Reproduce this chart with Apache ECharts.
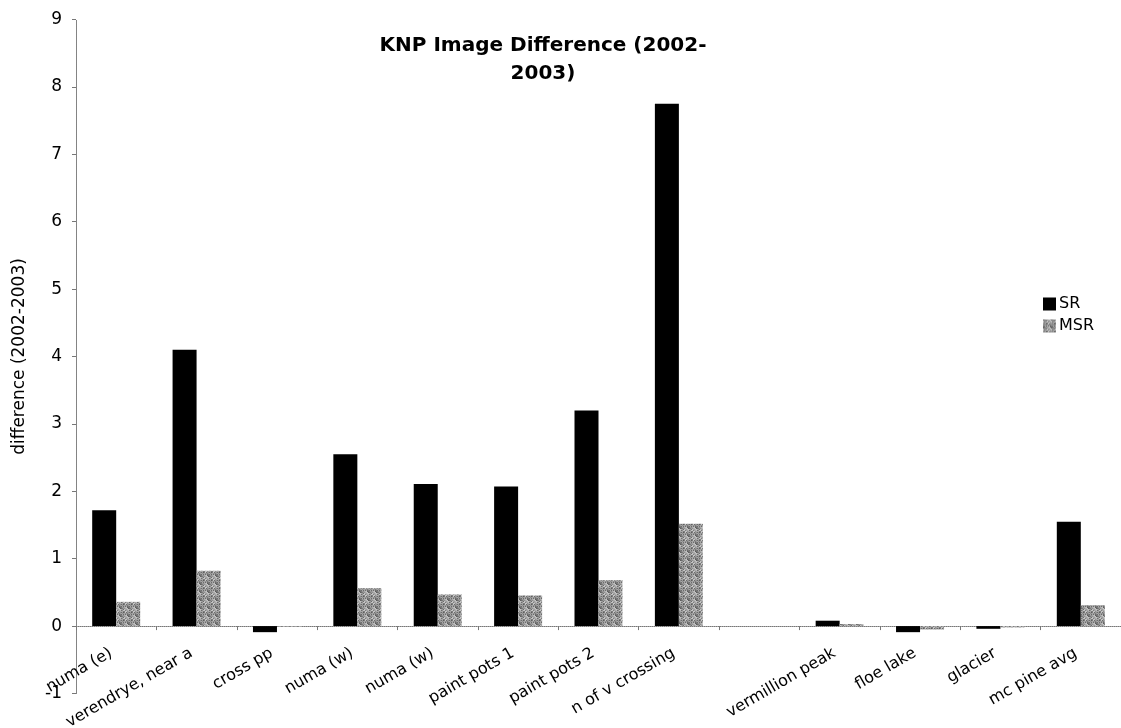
<!DOCTYPE html>
<html>
<head>
<meta charset="utf-8">
<title>KNP Image Difference (2002-2003)</title>
<script src="https://cdn.jsdelivr.net/npm/echarts@6/dist/echarts.min.js"></script>
<style>
  html, body { margin: 0; padding: 0; background: #ffffff; }
  #chart { width: 1121px; height: 728px; }
</style>
</head>
<body>
<div id="chart"></div>
<script>
// Sites along the transect; the blank entry keeps the gap before the alpine sites.
const categories = [
  'numa (e)', 'verendrye, near a', 'cross pp', 'numa (w)', 'numa (w)',
  'paint pots 1', 'paint pots 2', 'n of v crossing', '',
  'vermillion peak', 'floe lake', 'glacier', 'mc pine avg'
];
// Index differences between the 2002 and 2003 images
const srValues  = [1.72, 4.10, -0.09, 2.55, 2.11, 2.07, 3.20, 7.75, null, 0.08, -0.09, -0.04, 1.55];
const msrValues = [0.36, 0.82, -0.01, 0.56, 0.47, 0.455, 0.68, 1.52, null, 0.03, -0.05, -0.02, 0.31];
const yTicks = [-1, 0, 1, 2, 3, 4, 5, 6, 7, 8, 9];

const FONT = 'DejaVu Sans, Verdana, sans-serif';

// Plot area height in pixels and value range, used to lift the category axis to y = 0
const CHART_H = 728, GRID_TOP = 19.5, GRID_BOTTOM = 34.5;
const plotH = CHART_H - GRID_TOP - GRID_BOTTOM;
const yMin = yTicks[0], yMax = yTicks[yTicks.length - 1];
const zeroLift = plotH * (0 - yMin) / (yMax - yMin);

// Grainy grey fill for the MSR bars (fixed dither, tiled)
function grain() {
  const n = 8;
  const c = document.createElement('canvas');
  c.width = n; c.height = n;
  const ctx = c.getContext('2d');
  const shades = ['#5e5e5e', '#a8a8a8', '#7c7c7c', '#c4c4c4', '#8e8e8e', '#6c6c6c', '#b6b6b6', '#999999'];
  for (let y = 0; y < n; y++) {
    for (let x = 0; x < n; x++) {
      const k = (x * 5 + y * 3 + ((x * y) % 7)) % shades.length;
      ctx.fillStyle = shades[k];
      ctx.fillRect(x, y, 1, 1);
    }
  }
  return c;
}
const msrFill = { image: grain(), repeat: 'repeat' };

const chart = echarts.init(document.getElementById('chart'), null, { renderer: 'canvas' });

chart.setOption({
  backgroundColor: '#ffffff',
  animation: false,
  textStyle: { fontFamily: FONT },
  title: {
    text: 'KNP Image Difference (2002-\n2003)',
    left: 538,
    top: 27,
    textAlign: 'center',
    textStyle: { fontFamily: FONT, fontWeight: 'bold', fontSize: 20, lineHeight: 28, color: '#000' }
  },
  legend: {
    orient: 'vertical',
    left: 1038,
    top: 291,
    itemWidth: 13,
    itemHeight: 13,
    itemGap: 6,
    icon: 'rect',
    textStyle: { fontFamily: FONT, fontSize: 16, color: '#000', padding: [0, 0, 0, -2] },
    data: ['SR', 'MSR']
  },
  grid: { left: 76, right: 0, top: GRID_TOP, bottom: GRID_BOTTOM, containLabel: false, outerBoundsMode: 'none' },
  xAxis: {
    type: 'category',
    data: categories,
    offset: -zeroLift,
    axisLine: { onZero: false, lineStyle: { color: '#777', type: 'dotted', width: 1 } },
    axisTick: { show: true, length: 4, alignWithLabel: false, lineStyle: { color: '#777' } },
    axisLabel: {
      interval: 0,
      rotate: 30,
      margin: 23,
      fontFamily: FONT,
      fontSize: 16,
      color: '#000',
      hideOverlap: false,
      padding: [0, 6, 0, 0]
    },
    splitLine: { show: false }
  },
  yAxis: {
    type: 'value',
    min: yMin,
    max: yMax,
    interval: 1,
    name: 'difference (2002-2003)',
    nameLocation: 'middle',
    nameGap: 48,
    nameRotate: 90,
    nameTextStyle: { fontFamily: FONT, fontSize: 17, color: '#000' },
    axisLine: { show: true, lineStyle: { color: '#777', type: 'dotted', width: 1 } },
    axisTick: { show: true, length: 4, lineStyle: { color: '#777' } },
    axisLabel: { fontFamily: FONT, fontSize: 17, color: '#000', margin: 14 },
    splitLine: { show: false }
  },
  series: [
    {
      name: 'SR',
      type: 'bar',
      data: srValues,
      barWidth: 24,
      barGap: '0%',
      itemStyle: { color: '#000000' }
    },
    {
      name: 'MSR',
      type: 'bar',
      data: msrValues,
      barWidth: 24,
      itemStyle: { color: msrFill }
    }
  ]
});
</script>
</body>
</html>
